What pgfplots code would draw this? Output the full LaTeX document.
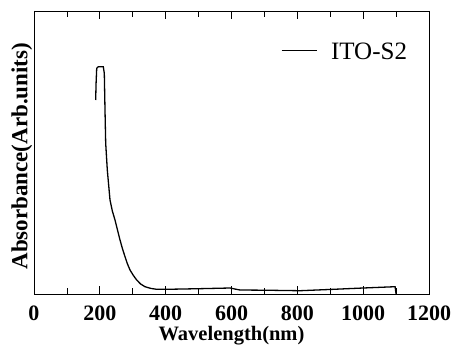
\documentclass[border=0pt]{standalone}
\usepackage{pgfplots}
\pgfplotsset{compat=1.18}
\usepackage{fontspec}
\setmainfont{Liberation Serif}
\usetikzlibrary{calc}
\begin{document}
\begin{tikzpicture}
\begin{axis}[
  scale only axis,
  width=395pt, height=283pt,
  xmin=0, xmax=1200, ymin=0, ymax=283,
  xtick={0,200,...,1200},
  minor xtick={100,300,...,1100},
  ytick=\empty,
  tick align=inside,
  major tick length=8pt,
  minor tick length=6pt,
  tick style={black, line width=0.8pt},
  axis line style={line width=0.9pt},
  xticklabel style={font=\fontsize{22}{22}\selectfont\bfseries, anchor=base, yshift=-26pt},
  /pgf/number format/assume math mode=true,
  /pgf/number format/1000 sep={},
  xlabel={\fontsize{20.5}{20.5}\selectfont\bfseries Wavelength(nm)},
  ylabel={\fontsize{23}{23}\selectfont\bfseries Absorbance(Arb.units)},
  xlabel style={at={(axis description cs:0.5,0)}, anchor=base, yshift=-46pt, inner sep=0pt},
  ylabel style={at={(axis description cs:0,0.487)}, anchor=south, inner sep=1.5pt},
  legend style={draw=none, fill=none, inner sep=0pt, outer sep=0pt,
    at={(rel axis cs:1,1)}, anchor=north east, xshift=-22pt, yshift=-32pt,
    nodes={inner sep=0pt}, column sep=14pt,
    font=\fontsize{25}{25}\selectfont},
  legend image code/.code={\draw[black, line width=0.8pt] (0pt,2pt) -- (35pt,2pt);},
]
\addplot[black, line width=1.3pt] coordinates {
(187.4,194) (188.5,210) (190.5,225.7) (195.3,227.3) (210.5,227.3)
(213.6,220.7) (215.7,184) (217.8,150.7) (222.7,124) (230.9,94)
(238,83) (246.1,74) (254,63.5) (261.3,54) (269,45) (276.5,37.3)
(284,30) (291.7,24) (302,18.5) (312,14) (324,10) (337.2,7.3)
(355,5.6) (372.8,4.7) (403,4.7) (500,5.3) (596,6) (610,5)
(626,4) (700,3.8) (808,3.3) (910,4.7) (1000,6) (1097,7.3) (1100,0)
};
\addlegendentry{ITO-S2}
\end{axis}
\pgfresetboundingbox
\path ($(current axis.south west)+(-34pt,-52pt)$) rectangle ($(current axis.north east)+(22pt,11pt)$);
\end{tikzpicture}
\end{document}
